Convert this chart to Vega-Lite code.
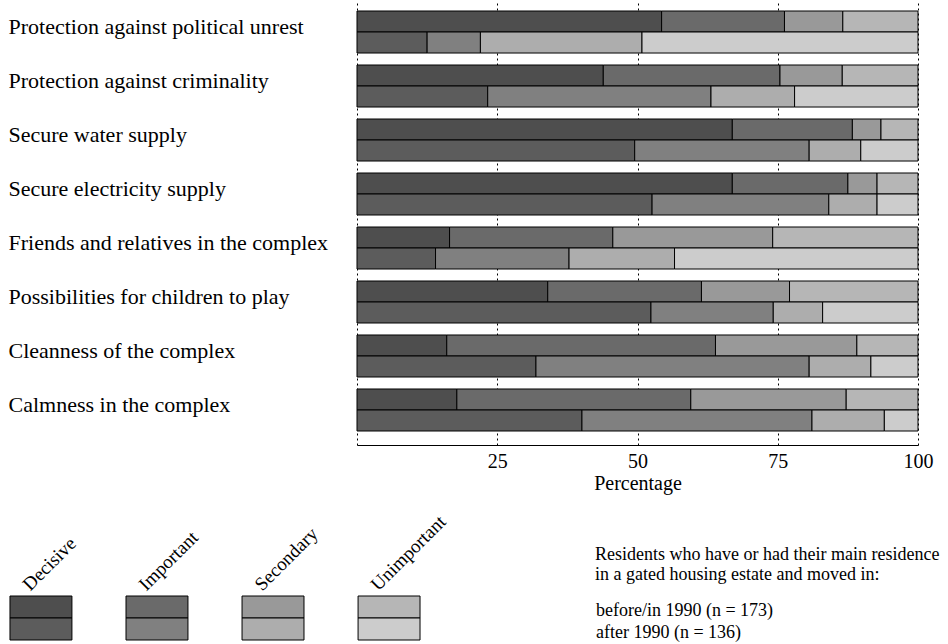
{
  "$schema": "https://vega.github.io/schema/vega-lite/v6.json",
  "padding": {"left": 8, "top": 3, "right": 0, "bottom": 0},
  "background": "white",
  "config": {"view": {"stroke": null}, "font": "Liberation Serif"},
  "datasets": {
    "bars": [
      {"category": "Protection against political unrest", "period": "before", "level": "Decisive", "value": 54.3},
      {"category": "Protection against political unrest", "period": "before", "level": "Important", "value": 21.9},
      {"category": "Protection against political unrest", "period": "before", "level": "Secondary", "value": 10.4},
      {"category": "Protection against political unrest", "period": "before", "level": "Unimportant", "value": 13.4},
      {"category": "Protection against political unrest", "period": "after", "level": "Decisive", "value": 12.5},
      {"category": "Protection against political unrest", "period": "after", "level": "Important", "value": 9.5},
      {"category": "Protection against political unrest", "period": "after", "level": "Secondary", "value": 28.8},
      {"category": "Protection against political unrest", "period": "after", "level": "Unimportant", "value": 49.2},
      {"category": "Protection against criminality", "period": "before", "level": "Decisive", "value": 43.9},
      {"category": "Protection against criminality", "period": "before", "level": "Important", "value": 31.5},
      {"category": "Protection against criminality", "period": "before", "level": "Secondary", "value": 11.1},
      {"category": "Protection against criminality", "period": "before", "level": "Unimportant", "value": 13.5},
      {"category": "Protection against criminality", "period": "after", "level": "Decisive", "value": 23.3},
      {"category": "Protection against criminality", "period": "after", "level": "Important", "value": 39.8},
      {"category": "Protection against criminality", "period": "after", "level": "Secondary", "value": 14.9},
      {"category": "Protection against criminality", "period": "after", "level": "Unimportant", "value": 22.0},
      {"category": "Secure water supply", "period": "before", "level": "Decisive", "value": 66.9},
      {"category": "Secure water supply", "period": "before", "level": "Important", "value": 21.4},
      {"category": "Secure water supply", "period": "before", "level": "Secondary", "value": 5.1},
      {"category": "Secure water supply", "period": "before", "level": "Unimportant", "value": 6.6},
      {"category": "Secure water supply", "period": "after", "level": "Decisive", "value": 49.5},
      {"category": "Secure water supply", "period": "after", "level": "Important", "value": 31.1},
      {"category": "Secure water supply", "period": "after", "level": "Secondary", "value": 9.2},
      {"category": "Secure water supply", "period": "after", "level": "Unimportant", "value": 10.2},
      {"category": "Secure electricity supply", "period": "before", "level": "Decisive", "value": 66.9},
      {"category": "Secure electricity supply", "period": "before", "level": "Important", "value": 20.6},
      {"category": "Secure electricity supply", "period": "before", "level": "Secondary", "value": 5.2},
      {"category": "Secure electricity supply", "period": "before", "level": "Unimportant", "value": 7.3},
      {"category": "Secure electricity supply", "period": "after", "level": "Decisive", "value": 52.6},
      {"category": "Secure electricity supply", "period": "after", "level": "Important", "value": 31.5},
      {"category": "Secure electricity supply", "period": "after", "level": "Secondary", "value": 8.6},
      {"category": "Secure electricity supply", "period": "after", "level": "Unimportant", "value": 7.3},
      {"category": "Friends and relatives in the complex", "period": "before", "level": "Decisive", "value": 16.5},
      {"category": "Friends and relatives in the complex", "period": "before", "level": "Important", "value": 29.1},
      {"category": "Friends and relatives in the complex", "period": "before", "level": "Secondary", "value": 28.5},
      {"category": "Friends and relatives in the complex", "period": "before", "level": "Unimportant", "value": 25.9},
      {"category": "Friends and relatives in the complex", "period": "after", "level": "Decisive", "value": 14.0},
      {"category": "Friends and relatives in the complex", "period": "after", "level": "Important", "value": 23.8},
      {"category": "Friends and relatives in the complex", "period": "after", "level": "Secondary", "value": 18.8},
      {"category": "Friends and relatives in the complex", "period": "after", "level": "Unimportant", "value": 43.4},
      {"category": "Possibilities for children to play", "period": "before", "level": "Decisive", "value": 34.0},
      {"category": "Possibilities for children to play", "period": "before", "level": "Important", "value": 27.4},
      {"category": "Possibilities for children to play", "period": "before", "level": "Secondary", "value": 15.7},
      {"category": "Possibilities for children to play", "period": "before", "level": "Unimportant", "value": 22.9},
      {"category": "Possibilities for children to play", "period": "after", "level": "Decisive", "value": 52.4},
      {"category": "Possibilities for children to play", "period": "after", "level": "Important", "value": 21.8},
      {"category": "Possibilities for children to play", "period": "after", "level": "Secondary", "value": 8.8},
      {"category": "Possibilities for children to play", "period": "after", "level": "Unimportant", "value": 17.0},
      {"category": "Cleanness of the complex", "period": "before", "level": "Decisive", "value": 16.0},
      {"category": "Cleanness of the complex", "period": "before", "level": "Important", "value": 47.9},
      {"category": "Cleanness of the complex", "period": "before", "level": "Secondary", "value": 25.2},
      {"category": "Cleanness of the complex", "period": "before", "level": "Unimportant", "value": 10.9},
      {"category": "Cleanness of the complex", "period": "after", "level": "Decisive", "value": 31.9},
      {"category": "Cleanness of the complex", "period": "after", "level": "Important", "value": 48.7},
      {"category": "Cleanness of the complex", "period": "after", "level": "Secondary", "value": 11.0},
      {"category": "Cleanness of the complex", "period": "after", "level": "Unimportant", "value": 8.4},
      {"category": "Calmness in the complex", "period": "before", "level": "Decisive", "value": 17.8},
      {"category": "Calmness in the complex", "period": "before", "level": "Important", "value": 41.7},
      {"category": "Calmness in the complex", "period": "before", "level": "Secondary", "value": 27.7},
      {"category": "Calmness in the complex", "period": "before", "level": "Unimportant", "value": 12.8},
      {"category": "Calmness in the complex", "period": "after", "level": "Decisive", "value": 40.1},
      {"category": "Calmness in the complex", "period": "after", "level": "Important", "value": 41.0},
      {"category": "Calmness in the complex", "period": "after", "level": "Secondary", "value": 12.9},
      {"category": "Calmness in the complex", "period": "after", "level": "Unimportant", "value": 6.0}
    ],
    "swatches": [
      {"level": "Decisive", "period": "before"},
      {"level": "Decisive", "period": "after"},
      {"level": "Important", "period": "before"},
      {"level": "Important", "period": "after"},
      {"level": "Secondary", "period": "before"},
      {"level": "Secondary", "period": "after"},
      {"level": "Unimportant", "period": "before"},
      {"level": "Unimportant", "period": "after"}
    ],
    "note": [
      {"period": "before", "text": "before/in 1990 (n = 173)"},
      {"period": "after", "text": "after 1990 (n = 136)"}
    ]
  },
  "spacing": 18,
  "resolve": {"scale": {"color": "shared"}},
  "vconcat": [
    {
      "spacing": 348,
      "bounds": "flush",
      "hconcat": [
        {
          "width": 1,
          "height": 442,
          "data": {"name": "bars"},
          "transform": [{"aggregate": [{"op": "count", "as": "n"}], "groupby": ["category"]}],
          "mark": {"type": "text", "align": "left", "baseline": "middle", "dy": -5, "fontSize": 22, "font": "Liberation Serif", "color": "black"},
          "encoding": {
            "y": {
              "field": "category", "type": "nominal",
              "sort": ["Protection against political unrest", "Protection against criminality", "Secure water supply", "Secure electricity supply", "Friends and relatives in the complex", "Possibilities for children to play", "Cleanness of the complex", "Calmness in the complex"],
              "scale": {"type": "band", "paddingInner": 0.222, "paddingOuter": 0.2037, "align": 0.364},
              "axis": null
            },
            "text": {"field": "category", "type": "nominal"}
          }
        },
        {
          "width": 561,
          "height": 442,
          "data": {"name": "bars"},
          "transform": [{"calculate": "datum.level + '|' + datum.period", "as": "key"}],
          "mark": {"type": "bar", "stroke": "black", "strokeWidth": 1},
          "encoding": {
            "y": {
              "field": "category", "type": "nominal",
              "sort": ["Protection against political unrest", "Protection against criminality", "Secure water supply", "Secure electricity supply", "Friends and relatives in the complex", "Possibilities for children to play", "Cleanness of the complex", "Calmness in the complex"],
              "scale": {"type": "band", "paddingInner": 0.222, "paddingOuter": 0.2037, "align": 0.364},
              "axis": null
            },
            "yOffset": {"field": "period", "type": "nominal", "sort": ["before", "after"], "scale": {"paddingInner": 0, "paddingOuter": 0}},
            "x": {
              "field": "value", "type": "quantitative", "stack": "zero",
              "scale": {"domain": [0, 100], "nice": false},
              "axis": {"title": "Percentage", "values": [0, 25, 50, 75, 100], "labelExpr": "datum.value == 0 ? '' : datum.label", "grid": true, "gridDash": [2, 3], "gridColor": "black", "gridWidth": 1, "gridOpacity": 1, "ticks": false, "tickSize": 0, "domainColor": "black", "domainWidth": 1, "labelFontSize": 20, "labelColor": "black", "labelPadding": 6, "labelFlush": false, "labelFont": "Liberation Serif", "titleFont": "Liberation Serif", "titleFontSize": 20, "titleFontWeight": "normal", "titleColor": "black", "titlePadding": 2}
            },
            "color": {
              "field": "key", "type": "nominal",
              "scale": {
                "domain": ["Decisive|before", "Important|before", "Secondary|before", "Unimportant|before", "Decisive|after", "Important|after", "Secondary|after", "Unimportant|after"],
                "range": ["#4e4e4e", "#6a6a6a", "#999999", "#b6b6b6", "#5c5c5c", "#808080", "#adadad", "#cccccc"]
              },
              "legend": null
            }
          }
        }
      ]
    },
    {
      "spacing": 145,
      "hconcat": [
        {
          "width": 414,
          "height": 44,
          "data": {"name": "swatches"},
          "transform": [{"calculate": "datum.level + '|' + datum.period", "as": "key"}],
          "mark": {"type": "rect", "stroke": "black", "strokeWidth": 1},
          "encoding": {
            "x": {
              "field": "level", "type": "nominal", "sort": ["Decisive", "Important", "Secondary", "Unimportant"],
              "scale": {"paddingInner": 0.466, "paddingOuter": 0.017},
              "axis": {"orient": "top", "title": null, "domain": false, "ticks": false, "labelAngle": -45, "labelAlign": "left", "labelBaseline": "middle", "labelOffset": -15, "labelPadding": 9, "labelFontSize": 19, "labelColor": "black", "labelFont": "Liberation Serif"}
            },
            "y": {"field": "period", "type": "nominal", "sort": ["before", "after"], "scale": {"paddingInner": 0, "paddingOuter": 0}, "axis": null},
            "color": {"field": "key", "type": "nominal", "legend": null}
          }
        },
        {
          "width": 2,
          "height": 44,
          "data": {"name": "note"},
          "title": {"text": ["Residents who have or had their main residence", "in a gated housing estate and moved in:"], "anchor": "start", "frame": "group", "font": "Liberation Serif", "fontSize": 18, "fontWeight": "normal", "color": "black", "lineHeight": 20, "offset": 12},
          "mark": {"type": "text", "align": "left", "baseline": "middle", "dy": 4, "fontSize": 18, "font": "Liberation Serif", "color": "black"},
          "encoding": {
            "y": {"field": "period", "type": "nominal", "sort": ["before", "after"], "scale": {"paddingInner": 0, "paddingOuter": 0}, "axis": null},
            "text": {"field": "text", "type": "nominal"}
          }
        }
      ]
    }
  ]
}
